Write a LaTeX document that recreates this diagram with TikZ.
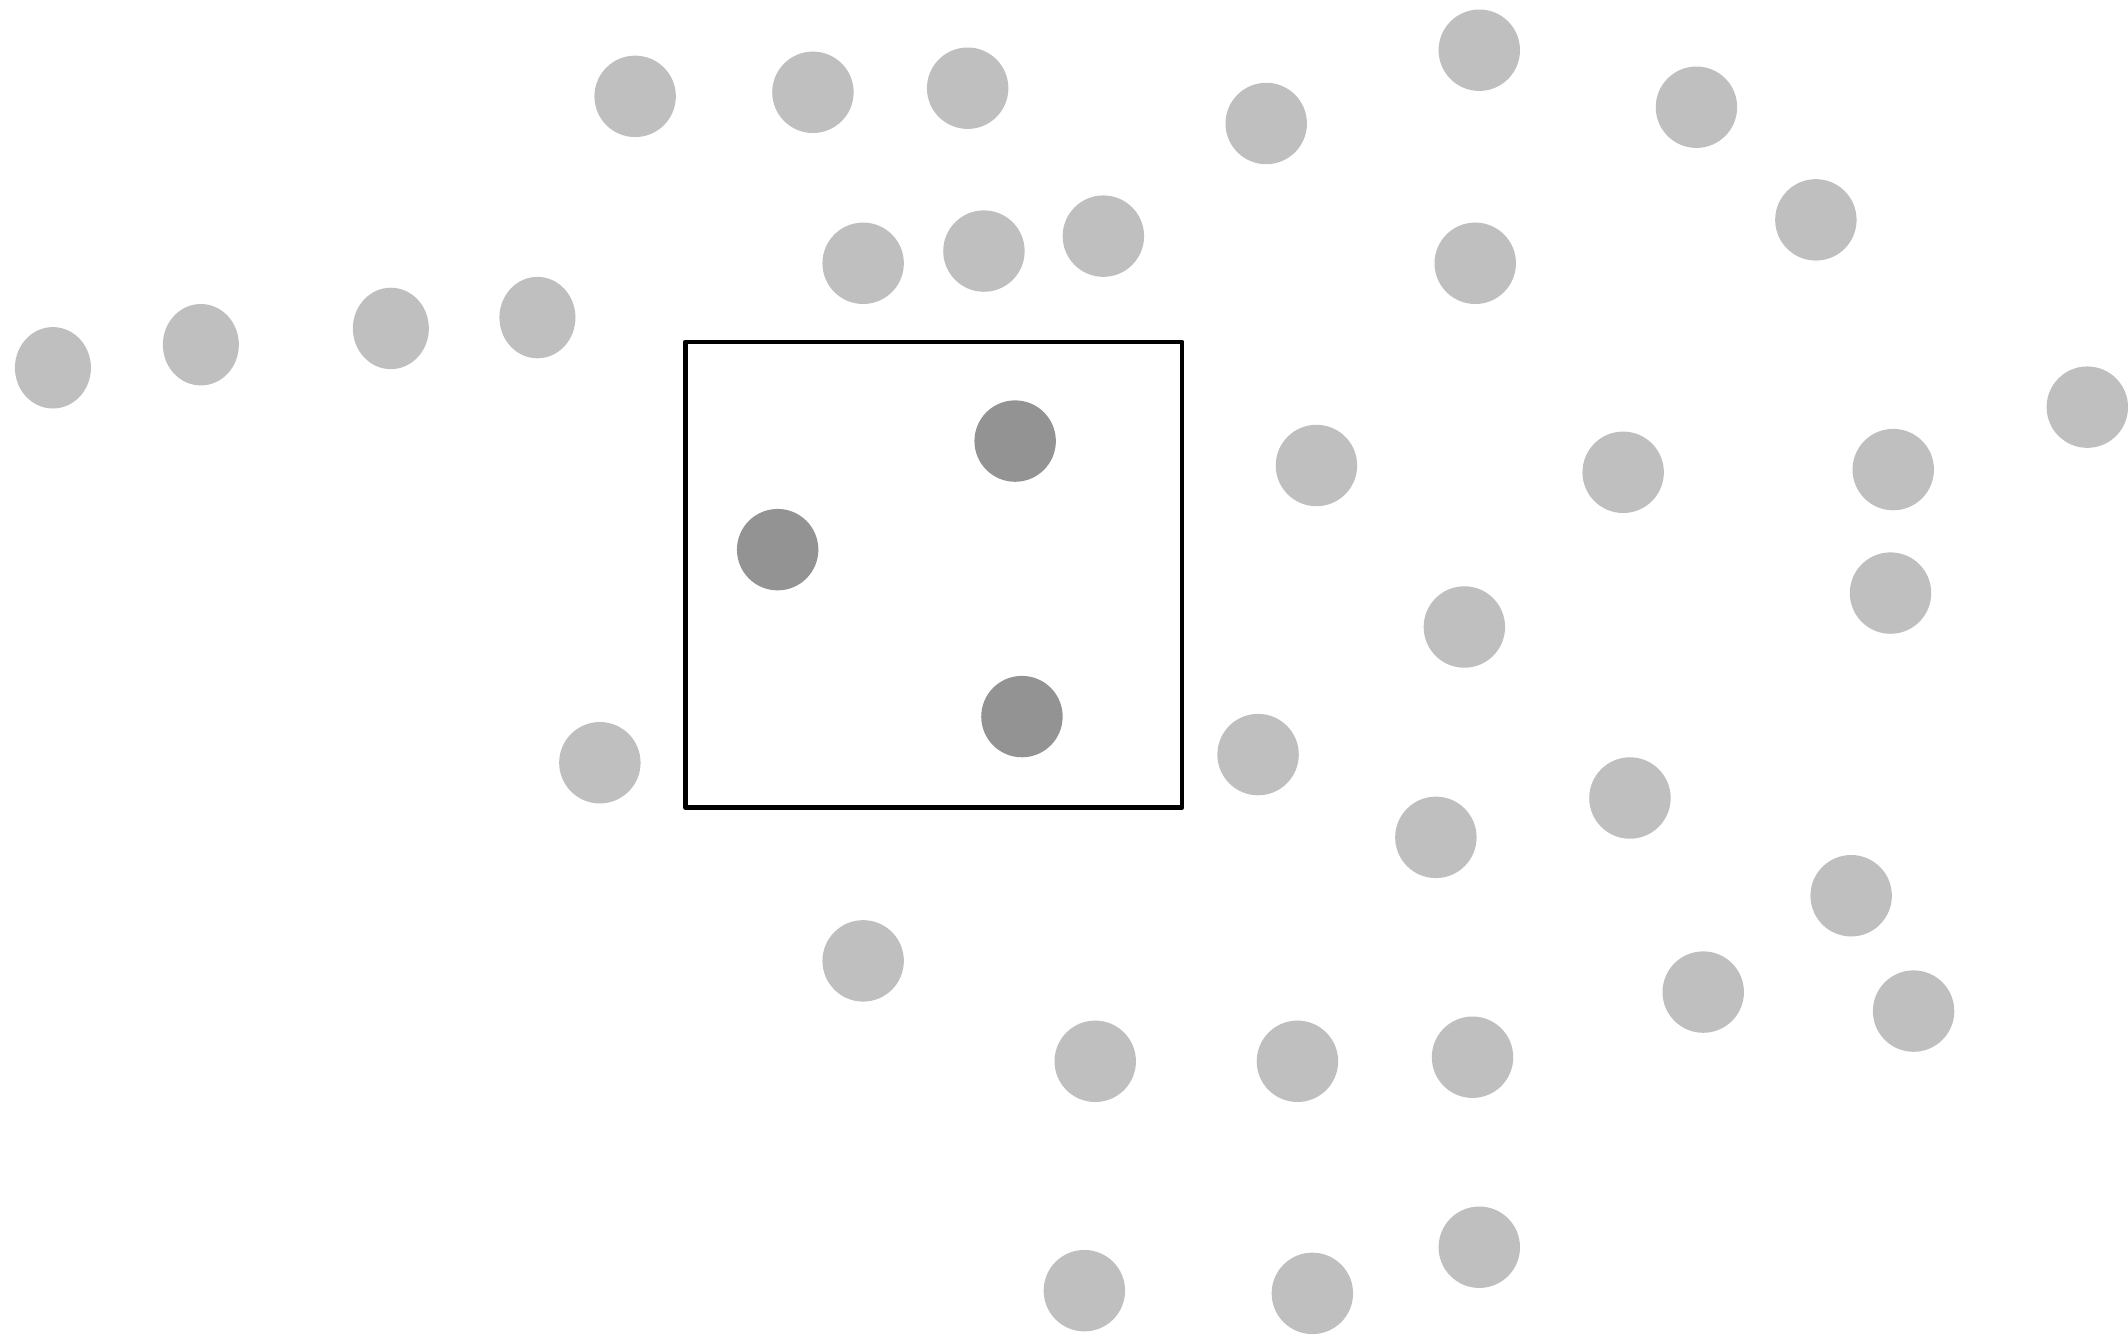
\documentclass[tikz,border=0pt]{standalone}
\definecolor{lightdot}{HTML}{BFBFBF}
\definecolor{darkdot}{HTML}{939393}
\begin{document}
\begin{tikzpicture}[x=0.02cm,y=-0.02cm,
  ldot/.style={fill=lightdot,draw=none},
  ddot/.style={fill=darkdot,draw=none},
  frame/.style={draw=black,line width=2pt,line join=round}]
\useasboundingbox (0,0) rectangle (1568,987);
% light dots
\foreach \x/\y in {468/71,599/68,713/65,933/91,1090/37,1250/79,1338/162,
  636/194,725/185,813/174,1087/194,1538/300,970/343,1196/348,1395/346,
  1393/437,1079/462,442/562,927/556,1201/588,1058/617,1364/660,636/708,
  1255/731,1410/745,807/782,956/782,1085/779,799/951,967/953,1090/919}
  {\fill[ldot] (\x,\y) circle[radius=30];}
\foreach \x/\y in {39/271,148/254,288/242,396/234}
  {\fill[ldot] (\x,\y) ellipse[x radius=28,y radius=30];}
% frame
\draw[frame] (505,252) rectangle (871,595);
% dark dots
\foreach \x/\y in {748/325,573/405,753/528}
  {\fill[ddot] (\x,\y) circle[radius=30];}
\end{tikzpicture}
\end{document}
